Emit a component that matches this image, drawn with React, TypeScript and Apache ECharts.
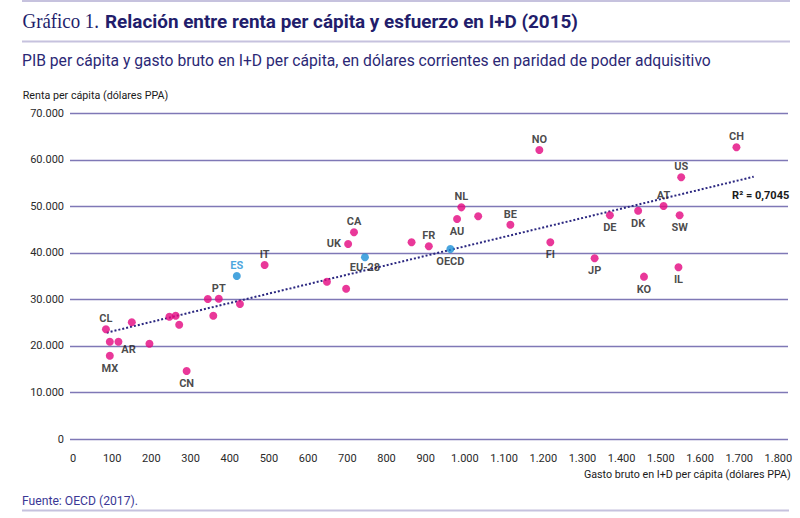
import React, { useEffect, useRef } from 'react';
import * as echarts from 'echarts';

// ---- data ----
const codes = ['CL', '', 'AR', 'MX', '', '', '', '', '', 'CN', '', 'PT', '', '', 'ES', 'IT', '', '', 'UK', 'CA', 'EU-28', '', 'FR', 'OECD', 'AU', 'NL', '', 'BE', 'NO', 'FI', 'JP', 'DE', 'DK', 'KO', 'AT', 'SW', 'IL', 'US', 'CH'];
const gasto = [84, 94, 116, 94, 150, 195, 246, 262, 271, 290, 344, 372, 358, 426, 418, 489, 648, 697, 702, 717, 745, 864, 908, 963, 980, 991, 1034, 1116, 1190, 1218, 1331, 1370, 1442, 1457, 1507, 1548, 1545, 1552, 1693];
const renta = [23570, 20900, 20900, 17900, 25080, 20480, 26290, 26500, 24570, 14610, 30090, 30150, 26500, 29000, 35030, 37400, 33810, 32300, 41910, 44420, 39050, 42270, 41410, 40830, 47280, 49790, 47860, 46060, 62110, 42270, 38830, 48080, 49070, 34890, 50080, 48080, 36900, 56240, 62690];
const aggregates = ['ES', 'EU-28', 'OECD'];
const trendX = [86, 1737];
const trendY = [22850, 56370];
const r2Text = 'R\u00B2 = 0,7045';
const xTicks = [0, 100, 200, 300, 400, 500, 600, 700, 800, 900, 1000, 1100, 1200, 1300, 1400, 1500, 1600, 1700, 1800];
const yTicks = [0, 10000, 20000, 30000, 40000, 50000, 60000, 70000];

const titleLead = 'Gráfico 1.';
const titleMain = 'Relación entre renta per cápita y esfuerzo en I+D (2015)';
const subtitle = 'PIB per cápita y gasto bruto en I+D per cápita, en dólares corrientes en paridad de poder adquisitivo';
const yName = 'Renta per cápita (dólares PPA)';
const xName = 'Gasto bruto en I+D per cápita (dólares PPA)';
const source = 'Fuente: OECD (2017).';

// ---- styling ----
const MAGENTA = '#e4067f';
const BLUE = '#1b8fd6';
const NAVY = '#221d6b';
const GRID = '#7f78b6';
const RULE = '#c6c2de';

const placement: Record<string, [string, number[]?]> = {
  CL: ['top'], AR: ['bottom', [10, -5]], MX: ['bottom'], CN: ['bottom'], PT: ['top'], ES: ['top'],
  IT: ['top'], UK: ['left'], CA: ['top'], 'EU-28': ['bottom', [0, -2]], FR: ['top'], OECD: ['bottom'],
  AU: ['bottom'], NL: ['top'], BE: ['top'], NO: ['top'], FI: ['bottom'], JP: ['bottom'], DE: ['bottom'],
  DK: ['bottom'], KO: ['bottom'], AT: ['top'], SW: ['bottom'], IL: ['bottom'], US: ['top'], CH: ['top'],
};

const fmt = (n: number) => String(n).replace(/\B(?=(\d{3})+(?!\d))/g, '.');

function measure(text: string, font: string): number {
  const ctx = document.createElement('canvas').getContext('2d');
  if (!ctx) return 1;
  ctx.font = font;
  return ctx.measureText(text).width || 1;
}

function fittedText(text: string, x: number, y: number, width: number, size: number, family: string, weight: string, fill: string, align = 'left') {
  const font = `${weight} ${size}px ${family}`;
  const s = width / measure(text, font);
  return {
    type: 'text',
    x, y, scaleX: s, scaleY: 1, originX: 0, originY: 0,
    silent: true,
    style: { text, font, fill, align, verticalAlign: 'middle' },
  };
}

export default function App() {
  const ref = useRef<HTMLDivElement>(null);

  useEffect(() => {
    if (!ref.current) return;
    const chart = echarts.init(ref.current, undefined, { renderer: 'svg' });

    const points = codes.map((c, i) => {
      const isAgg = aggregates.includes(c);
      const p = placement[c];
      return {
        name: c,
        value: [gasto[i], renta[i]],
        itemStyle: { color: isAgg ? BLUE : MAGENTA },
        label: {
          show: c !== '',
          position: p ? p[0] : 'top',
          distance: p && p[0] === 'top' ? 1 : 3,
          offset: p && p[1] ? p[1] : [0, 0],
          color: c === 'ES' ? BLUE : '#1a1a1a',
        },
      };
    });

    const trend = trendX.map((x, i) => ({
      value: [x, trendY[i]],
      label: i === trendX.length - 1
        ? { show: true, formatter: r2Text, position: 'bottom', distance: 5, offset: [7, 8], color: '#1a1a1a', fontWeight: 'bold', fontSize: 11, fontFamily: 'Roboto' }
        : { show: false },
    }));

    chart.setOption({
      animation: false,
      backgroundColor: '#ffffff',
      textStyle: { fontFamily: 'Roboto' },
      grid: { left: 70, right: 12, top: 113.3, bottom: 79, containLabel: false },
      xAxis: {
        type: 'value',
        min: -7.66,
        max: 1824.5,
        axisLine: { show: false },
        axisTick: { show: false },
        splitLine: { show: false },
        axisLabel: { customValues: xTicks, formatter: (v: number) => fmt(v), margin: 14, fontSize: 11, color: '#2a2a2a', fontFamily: 'Roboto' },
      },
      yAxis: {
        type: 'value',
        min: 0,
        max: 70000,
        interval: 10000,
        axisLine: { show: false },
        axisTick: { show: false },
        splitLine: { show: true, lineStyle: { color: GRID, width: 1.4 } },
        axisLabel: { customValues: yTicks, formatter: (v: number) => fmt(v), margin: 6, fontSize: 11, color: '#2a2a2a', padding: [0, 0, 5, 0], fontFamily: 'Roboto' },
      },
      series: [
        {
          type: 'line',
          data: trend,
          symbol: 'circle',
          symbolSize: 0.1,
          showSymbol: true,
          lineStyle: { color: '#2b2780', width: 2, type: [2, 2] },
          itemStyle: { color: 'transparent' },
          z: 2,
          silent: true,
        },
        {
          type: 'scatter',
          data: points,
          symbolSize: 8,
          z: 3,
          label: { fontSize: 11, fontWeight: 'bold', fontFamily: 'Roboto', formatter: '{b}' },
        },
      ],
      graphic: [
        { type: 'line', silent: true, shape: { x1: 22, y1: 1, x2: 790, y2: 1 }, style: { stroke: RULE, lineWidth: 2 } },
        { type: 'line', silent: true, shape: { x1: 22, y1: 41.5, x2: 790, y2: 41.5 }, style: { stroke: RULE, lineWidth: 2 } },
        { type: 'line', silent: true, shape: { x1: 22, y1: 510.5, x2: 789, y2: 510.5 }, style: { stroke: RULE, lineWidth: 2 } },
        fittedText(titleLead, 22.5, 21, 76.5, 20, '"Liberation Serif"', 'normal', NAVY),
        fittedText(titleMain, 105, 21, 473, 19, 'Roboto', 'bold', NAVY),
        fittedText(subtitle, 22, 60.5, 689, 16, 'Roboto', 'normal', '#2b2875'),
        fittedText(yName, 22.7, 95.5, 145.5, 11, 'Roboto', 'normal', '#1a1a1a'),
        fittedText(xName, 790.7, 474.5, 207, 11.5, 'Roboto', 'normal', '#1a1a1a', 'right'),
        fittedText(source, 22, 500, 116, 13, 'Roboto', 'normal', '#3a3795'),
      ],
    });

    return () => chart.dispose();
  }, []);

  return (
    <div
      ref={ref}
      style={{ position: 'fixed', left: 0, top: 0, width: 800, height: 518, background: '#fff' }}
    />
  );
}
